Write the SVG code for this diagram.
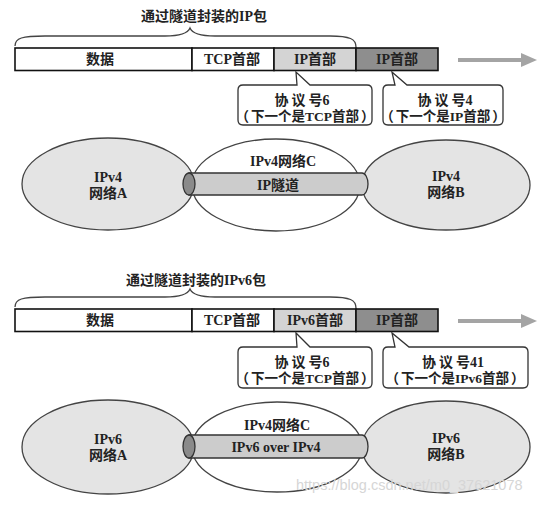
<svg xmlns="http://www.w3.org/2000/svg" width="553" height="508" viewBox="0 0 553 508">
<style>
text{font-family:"Liberation Serif","Noto Sans CJK SC",serif;font-size:14px;fill:#222;text-anchor:middle;font-weight:bold}
.l2{font-size:13.5px}
.bar{stroke:#111;stroke-width:1.6}
.white{fill:#fff}
.light{fill:#d4d4d4}
.dark{fill:#8e8e8e}
.brace{fill:none;stroke:#444;stroke-width:1.3}
.callout{fill:#fff;stroke:#333;stroke-width:1.3}
.net{fill:#e4e4e4;stroke:#444;stroke-width:1.3}
.netc{fill:#fff;stroke:#444;stroke-width:1.3}
.tube{fill:#cccccc;stroke:#333;stroke-width:1.3}
.cap{fill:#8a8a8a;stroke:#333;stroke-width:1.3}
.arr{stroke:#a4a4a4;stroke-width:4}
.arrh{fill:#a4a4a4}
.wm{font-family:"Liberation Sans",sans-serif;font-weight:normal;font-size:14.5px;fill:#d6d6d6;text-anchor:start}
</style>

<!-- ===== Top section ===== -->
<g id="title1">
  <text x="204" y="21">通过隧道封装的IP包</text>
</g>
<g id="packet1">
  <rect class="bar white" x="15" y="48" width="177" height="22.5"/>
  <rect class="bar white" x="192" y="48" width="82" height="22.5"/>
  <rect class="bar light" x="274" y="48" width="82" height="22.5"/>
  <rect class="bar dark" x="356" y="48" width="82" height="22.5"/>
  <text x="100" y="64">数据</text>
  <text x="232" y="64">TCP首部</text>
  <text x="315" y="64">IP首部</text>
  <text x="397" y="64">IP首部</text>
</g>
<g id="callout1a">
  <path class="callout" d="M243,85 L297,85 L296,72 L310,85 L367,85 Q372,85 372,90 L372,120 Q372,125 367,125 L243,125 Q238,125 238,120 L238,90 Q238,85 243,85 Z"/>
  <text x="302" y="105">协<tspan dx="3">议</tspan><tspan dx="3">号</tspan>6</text>
  <text class="l2" x="305" y="121">（<tspan dx="2">下一个是TCP首部</tspan><tspan dx="2">）</tspan></text>
</g>
<g id="callout1b">
  <path class="callout" d="M388,85 L395,85 L392,72 L407,85 L498,85 Q503,85 503,90 L503,120 Q503,125 498,125 L388,125 Q383,125 383,120 L383,90 Q383,85 388,85 Z"/>
  <text x="445" y="105">协<tspan dx="3">议</tspan><tspan dx="3">号</tspan>4</text>
  <text class="l2" x="443" y="121">（<tspan dx="2">下一个是IP首部</tspan><tspan dx="2">）</tspan></text>
</g>
<g id="netA1">
  <ellipse class="net" cx="108" cy="184" rx="86" ry="46"/>
  <text x="108" y="182">IPv4</text>
  <text x="108" y="198">网络A</text>
</g>
<g id="netB1">
  <ellipse class="net" cx="446" cy="185" rx="84" ry="45"/>
  <text x="446" y="181">IPv4</text>
  <text x="446" y="197">网络B</text>
</g>
<g id="netC1">
  <ellipse class="netc" cx="276" cy="185" rx="84" ry="46"/>
  <text x="283" y="166">IPv4网络C</text>
</g>
<g id="tunnel1">
  <path class="tube" d="M189,173 L362,173 A6,11 0 0 1 362,195 L189,195 Z"/>
  <ellipse class="cap" cx="189" cy="184" rx="6" ry="11"/>
  <text x="278" y="190">IP隧道</text>
</g>

<!-- ===== Bottom section ===== -->
<g id="title2">
  <text x="196" y="285">通过隧道封装的IPv6包</text>
</g>
<g id="packet2">
  <rect class="bar white" x="15" y="309" width="177" height="22.5"/>
  <rect class="bar white" x="192" y="309" width="82" height="22.5"/>
  <rect class="bar light" x="274" y="309" width="82" height="22.5"/>
  <rect class="bar dark" x="356" y="309" width="82" height="22.5"/>
  <text x="100" y="325">数据</text>
  <text x="232" y="325">TCP首部</text>
  <text x="315" y="325">IPv6首部</text>
  <text x="397" y="325">IP首部</text>
</g>
<g id="callout2a">
  <path class="callout" d="M243,347 L297,347 L296,333 L310,347 L367,347 Q372,347 372,352 L372,383 Q372,388 367,388 L243,388 Q238,388 238,383 L238,352 Q238,347 243,347 Z"/>
  <text x="302" y="367">协<tspan dx="3">议</tspan><tspan dx="3">号</tspan>6</text>
  <text class="l2" x="305" y="383">（<tspan dx="2">下一个是TCP首部</tspan><tspan dx="2">）</tspan></text>
</g>
<g id="callout2b">
  <path class="callout" d="M388,347 L395,347 L392,333 L409,347 L523,347 Q528,347 528,352 L528,383 Q528,388 523,388 L388,388 Q383,388 383,383 L383,352 Q383,347 388,347 Z"/>
  <text x="453" y="367">协<tspan dx="3">议</tspan><tspan dx="3">号</tspan>41</text>
  <text class="l2" x="455" y="383">（<tspan dx="2">下一个是IPv6首部</tspan><tspan dx="2">）</tspan></text>
</g>
<g id="netA2">
  <ellipse class="net" cx="108" cy="447" rx="86" ry="47"/>
  <text x="108" y="444">IPv6</text>
  <text x="108" y="460">网络A</text>
</g>
<g id="netB2">
  <ellipse class="net" cx="446" cy="447" rx="84" ry="46"/>
  <text x="446" y="443">IPv6</text>
  <text x="446" y="459">网络B</text>
</g>
<g id="netC2">
  <ellipse class="netc" cx="277" cy="447" rx="85" ry="45"/>
  <text x="277" y="430">IPv4网络C</text>
</g>
<g id="tunnel2">
  <path class="tube" d="M189,435 L362,435 A6,11.5 0 0 1 362,458 L189,458 Z"/>
  <ellipse class="cap" cx="189" cy="446.5" rx="6" ry="11.5"/>
  <text x="276" y="452">IPv6 over IPv4</text>
</g>

<!-- ===== Connectors: braces and flow arrows ===== -->
<g id="connectors">
  <path class="brace" d="M15,46 C15,38 22,36 45,36 L165,36 C182,36 188,33 190,28 C192,33 198,36 215,36 L330,36 C350,36 356,39 356,47"/>
  <path class="brace" d="M15,307 C15,299 22,297 45,297 L165,297 C182,297 188,294 190,289 C192,294 198,297 215,297 L330,297 C350,297 356,300 356,308"/>
  <line class="arr" x1="458" y1="60" x2="525" y2="60"/>
  <polygon class="arrh" points="521,53 537,60 521,67"/>
  <line class="arr" x1="458" y1="321" x2="525" y2="321"/>
  <polygon class="arrh" points="521,314 537,321 521,328"/>
</g>

<text class="wm" x="296" y="490">https://blog.csdn.net/m0_37621078</text>
</svg>
